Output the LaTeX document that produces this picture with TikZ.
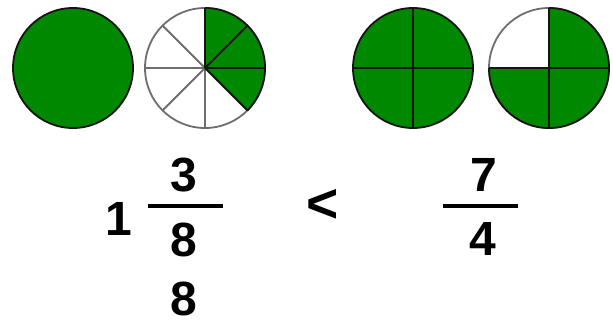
\documentclass[tikz,border=0pt]{standalone}
\usepackage{fontspec}
\setmainfont{Liberation Sans}
\usetikzlibrary{calc}
\definecolor{pie}{RGB}{0,136,0}
\definecolor{rimdark}{RGB}{20,20,20}
\definecolor{rimlight}{RGB}{110,110,110}
\begin{document}
\begin{tikzpicture}[x=1pt,y=-1pt,
  num/.style={inner sep=0pt,font=\fontsize{48}{56}\selectfont\bfseries},
  greenpart/.style={fill=pie},
  darkline/.style={draw=rimdark,line width=1.8pt},
  lightline/.style={draw=rimlight,line width=1.8pt},
  fracbar/.style={line width=4pt,black}]
\useasboundingbox (0,0) rectangle (613,320);
\def\R{60}
% circle 1: whole
\coordinate (c1) at (73,68);
\fill[greenpart] (c1) circle[radius=\R];
\draw[darkline] (c1) circle[radius=\R];
% circle 2: eighths, 3 shaded
\coordinate (c2) at (205,68);
\fill[white] (c2) circle[radius=\R];
\fill[greenpart] (c2) -- ++(0,-\R) arc[start angle=-90,end angle=45,radius=\R] -- cycle;
\draw[lightline] (c2) circle[radius=\R];
\foreach \a in {90,135,180,225} \draw[lightline] (c2) -- +(\a:\R);
\draw[darkline] ($(c2)+(0,-\R)$) arc[start angle=-90,end angle=45,radius=\R];
\foreach \a in {-90,-45,0,45} \draw[darkline] (c2) -- +(\a:\R);
% circle 3: four quarters
\coordinate (c3) at (413,68);
\fill[greenpart] (c3) circle[radius=\R];
\draw[darkline] (c3) circle[radius=\R];
\draw[darkline] ($(c3)+(-\R,0)$) -- ($(c3)+(\R,0)$);
\draw[darkline] ($(c3)+(0,-\R)$) -- ($(c3)+(0,\R)$);
% circle 4: three quarters
\coordinate (c4) at (549,68);
\fill[white] (c4) circle[radius=\R];
\fill[greenpart] (c4) -- ++(0,-\R) arc[start angle=-90,end angle=180,radius=\R] -- cycle;
\draw[lightline] (c4) circle[radius=\R];
\draw[darkline] ($(c4)+(0,-\R)$) arc[start angle=-90,end angle=180,radius=\R];
\draw[darkline] ($(c4)+(-\R,0)$) -- ($(c4)+(\R,0)$);
\draw[darkline] ($(c4)+(0,-\R)$) -- ($(c4)+(0,\R)$);
% numbers
\node[num] (one) at (119,219) {1};
\node[num] (n1) at (184,175) {3};
\node[num] (d1) at (184,240) {8};
\node[num] (d1b) at (184,299) {8};
\coordinate (b1l) at (148,206);
\coordinate (b1r) at (223,206);
\draw[fracbar] (b1l) -- (b1r);
\node[num,scale=1.15] (lt) at (323,206) {<};
\node[num] (n2) at (484,175) {7};
\node[num] (d2) at (483,239) {4};
\coordinate (b2l) at (443,206);
\coordinate (b2r) at (518,206);
\draw[fracbar] (b2l) -- (b2r);
\end{tikzpicture}
\end{document}
